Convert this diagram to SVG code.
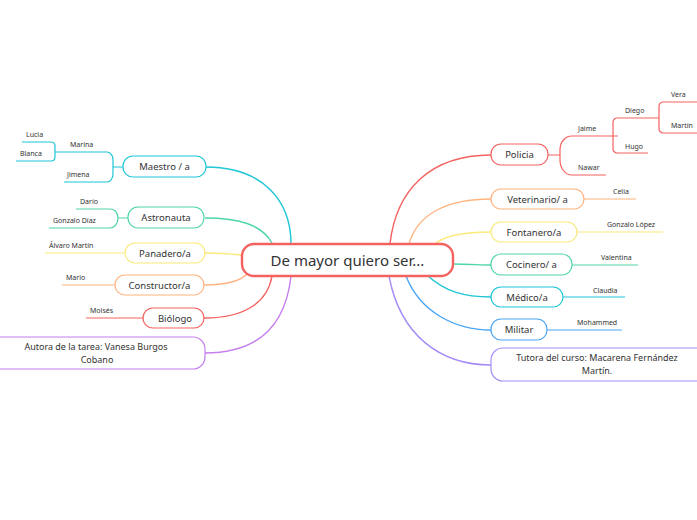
<svg xmlns="http://www.w3.org/2000/svg" width="697" height="520" viewBox="0 0 697 520">
<style>
text{font-family:"Noto Sans","Open Sans",sans-serif;fill:#333;}
.n{font-size:9.5px;text-anchor:middle;}
.m{font-size:9px;text-anchor:middle;}
.s{font-size:7px;}
.box{fill:#fff;stroke-width:1.2;}
.c{fill:none;stroke-width:1.4;}
.l{fill:none;stroke-width:1.2;}
</style>
<rect width="697" height="520" fill="#fff"/>
<g id="connectors">
<path class="c" stroke="#1ec6d6" d="M206,167 C262,167 291,200 291,244"/>
<path class="c" stroke="#4fd6a8" d="M205,218 C240,218 262,225 272,243"/>
<path class="c" stroke="#fbe97a" d="M205,253 C222,253 232,254 242,255"/>
<path class="c" stroke="#ffb37f" d="M204,285 C228,285 242,280 248,273"/>
<path class="c" stroke="#f4625f" d="M204,318 C248,318 268,300 272,276"/>
<path class="c" stroke="#c57fef" d="M205,353 C262,353 286,322 291,276"/>
<path class="c" stroke="#f4625f" d="M491,155 C430,155 396,190 390,244"/>
<path class="c" stroke="#ffb37f" d="M491,199 C450,199 418,212 409,244"/>
<path class="c" stroke="#fbe97a" d="M491,232 C465,232 445,235 435,244"/>
<path class="c" stroke="#4fd6a8" d="M453,264 C470,264 480,265 491,265"/>
<path class="c" stroke="#1ec6d6" d="M427,275 C445,292 465,297 491,297"/>
<path class="c" stroke="#4aa6f5" d="M406,276 C420,312 455,330 491,330"/>
<path class="c" stroke="#a58cf7" d="M389,276 C400,335 440,365 491,365"/>
<path class="l" stroke="#1ec6d6" d="M123,167 H113 M107,152 C110,152 113,155 113,160 V174 C113,179 110,182 107,182 M64,182 H107 M55,152 H107"/>
<path class="l" stroke="#1ec6d6" d="M22,142 H51 C54,142 55,144 55,146 V157 C55,159 54,161 51,161 H16"/>
<path class="l" stroke="#4fd6a8" d="M128,218 H118 M76,209 H110 C114,209 118,212 118,218 C118,224 114,228 110,228 H49"/>
<path class="l" stroke="#fbe97a" d="M125,253 H45"/>
<path class="l" stroke="#ffb37f" d="M115,285 H62"/>
<path class="l" stroke="#f4625f" d="M143,318 H86"/>
<path class="l" stroke="#f4625f" d="M548,155 H560 M613,136 H572 C565,136 560,142 560,150 V160 C560,168 565,175 572,175 H606"/>
<path class="l" stroke="#f4625f" d="M613,136 H618 M659,118 H617 C615,118 613,120 613,122 V149 C613,151 615,153 617,153 H648"/>
<path class="l" stroke="#f4625f" d="M697,102 H663 C661,102 659,104 659,106 V129 C659,131 661,133 663,133 H697"/>
<path class="l" stroke="#ffb37f" d="M584,199 H636"/>
<path class="l" stroke="#fbe97a" d="M577,232 H663"/>
<path class="l" stroke="#4fd6a8" d="M572,265 H638"/>
<path class="l" stroke="#1ec6d6" d="M563,297 H625"/>
<path class="l" stroke="#4aa6f5" d="M547,330 H622"/>
</g>
<g id="central">
<rect x="242" y="244" width="211" height="32" rx="12" fill="#fff" stroke="#f4625f" stroke-width="2.4"/>
<text x="347.5" y="266" style="font-size:15px;text-anchor:middle">De mayor quiero ser...</text>
</g>
<g id="maestro">
<rect class="box" x="123" y="156" width="83" height="21" rx="10" stroke="#1ec6d6"/>
<text class="n" x="164.5" y="170">Maestro / a</text>
<text class="s" x="70" y="147">Marina</text>
<text class="s" x="67" y="177">Jimena</text>
<text class="s" x="26" y="137">Lucia</text>
<text class="s" x="20" y="156">Blanca</text>
</g>
<g id="astronauta">
<rect class="box" x="128" y="207" width="76" height="21" rx="10" stroke="#4fd6a8"/>
<text class="n" x="166" y="221">Astronauta</text>
<text class="s" x="80" y="204">Darío</text>
<text class="s" x="53" y="223">Gonzalo Díaz</text>
</g>
<g id="panadero">
<rect class="box" x="125" y="243" width="80" height="20" rx="10" stroke="#fbe97a"/>
<text class="n" x="165" y="256.5">Panadero/a</text>
<text class="s" x="49" y="248">Álvaro Martín</text>
</g>
<g id="constructor">
<rect class="box" x="115" y="275" width="89" height="20" rx="10" stroke="#ffb37f"/>
<text class="n" x="159.5" y="288.5">Constructor/a</text>
<text class="s" x="66" y="280">Mario</text>
</g>
<g id="biologo">
<rect class="box" x="143" y="308" width="61" height="20" rx="10" stroke="#f4625f"/>
<text class="n" x="175" y="321.5">Biólogo</text>
<text class="s" x="90" y="313">Moisés</text>
</g>
<g id="autora">
<rect class="box" x="-12" y="337" width="217" height="32" rx="12" stroke="#c57fef"/>
<text class="m" x="96" y="350">Autora de la tarea: Vanesa Burgos</text>
<text class="m" x="97" y="362.5">Cobano</text>
</g>
<g id="policia">
<rect class="box" x="491" y="144" width="57" height="21" rx="10" stroke="#f4625f"/>
<text class="n" x="519.5" y="158">Policia</text>
<text class="s" x="578" y="131">Jaime</text>
<text class="s" x="578" y="170">Nawar</text>
<text class="s" x="625" y="113">Diego</text>
<text class="s" x="625" y="149">Hugo</text>
<text class="s" x="671" y="97">Vera</text>
<text class="s" x="671" y="128">Martín</text>
</g>
<g id="veterinario">
<rect class="box" x="491" y="189" width="93" height="20" rx="10" stroke="#ffb37f"/>
<text class="n" x="537.5" y="202.5">Veterinario/ a</text>
<text class="s" x="613" y="194">Celia</text>
</g>
<g id="fontanero">
<rect class="box" x="491" y="222" width="86" height="20" rx="10" stroke="#fbe97a"/>
<text class="n" x="534" y="235.5">Fontanero/a</text>
<text class="s" x="607" y="227">Gonzalo López</text>
</g>
<g id="cocinero">
<rect class="box" x="491" y="254" width="81" height="21" rx="10" stroke="#4fd6a8"/>
<text class="n" x="531.5" y="268">Cocinero/ a</text>
<text class="s" x="601" y="260">Valentina</text>
</g>
<g id="medico">
<rect class="box" x="491" y="287" width="72" height="20" rx="10" stroke="#1ec6d6"/>
<text class="n" x="527" y="300.5">Médico/a</text>
<text class="s" x="593" y="293">Claudia</text>
</g>
<g id="militar">
<rect class="box" x="491" y="319" width="56" height="21" rx="10" stroke="#4aa6f5"/>
<text class="n" x="519" y="333">Militar</text>
<text class="s" x="577" y="325">Mohammed</text>
</g>
<g id="tutora">
<rect class="box" x="491" y="348" width="220" height="33" rx="12" stroke="#a58cf7"/>
<text class="m" x="597" y="361">Tutora del curso: Macarena Fernández</text>
<text class="m" x="597" y="374">Martín.</text>
</g>
</svg>
